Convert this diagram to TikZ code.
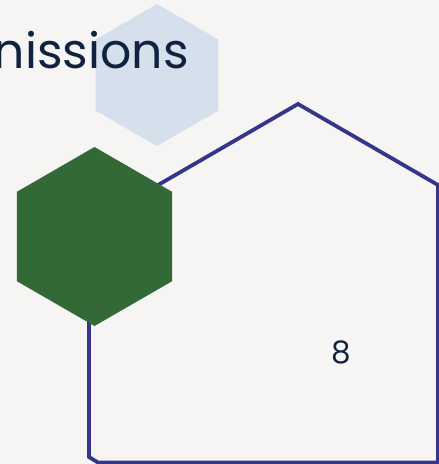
\documentclass[tikz,border=0pt]{standalone}
\usepackage{fontspec}
\setmainfont{Poppins}
\usetikzlibrary{shapes.geometric}
\definecolor{bgc}{HTML}{F7F5F3}
\definecolor{lightblue}{HTML}{D6E0EC}
\definecolor{hexgreen}{HTML}{336837}
\definecolor{navyline}{HTML}{35358A}
\definecolor{textnavy}{HTML}{0F2240}
\tikzset{
  hexbox/.style={regular polygon, regular polygon sides=6, shape border rotate=30, inner sep=0pt, draw=none},
  outline/.style={draw=navyline, line width=3.8pt, line join=miter},
}
\begin{document}
\begin{tikzpicture}[x=1pt,y=-1pt]
\fill[bgc] (0,0) rectangle (439,464);
\useasboundingbox (0,0) rectangle (439,464);
\node[hexbox, fill=lightblue, minimum size=142pt] (lhex) at (157,75) {};
\node[anchor=base east, text=textnavy, font=\fontsize{49}{52}\selectfont, inner sep=0pt] (title) at (189,68) {nissions};
\coordinate (p1) at (89,225);
\coordinate (p2) at (298,104);
\coordinate (p3) at (438,185);
\coordinate (p4) at (438,462.5);
\coordinate (p5) at (98,462.5);
\coordinate (p6) at (89,457);
\draw[outline] (p1) -- (p2) -- (p3) -- (p4) -- (p5) -- (p6) -- cycle;
\node[hexbox, fill=hexgreen, minimum size=179pt] (ghex) at (94.5,236.5) {};
\node[text=textnavy, font=\fontsize{31}{33}\selectfont, inner sep=0pt, anchor=base] (num) at (341,363.5) {8};
\end{tikzpicture}
\end{document}
